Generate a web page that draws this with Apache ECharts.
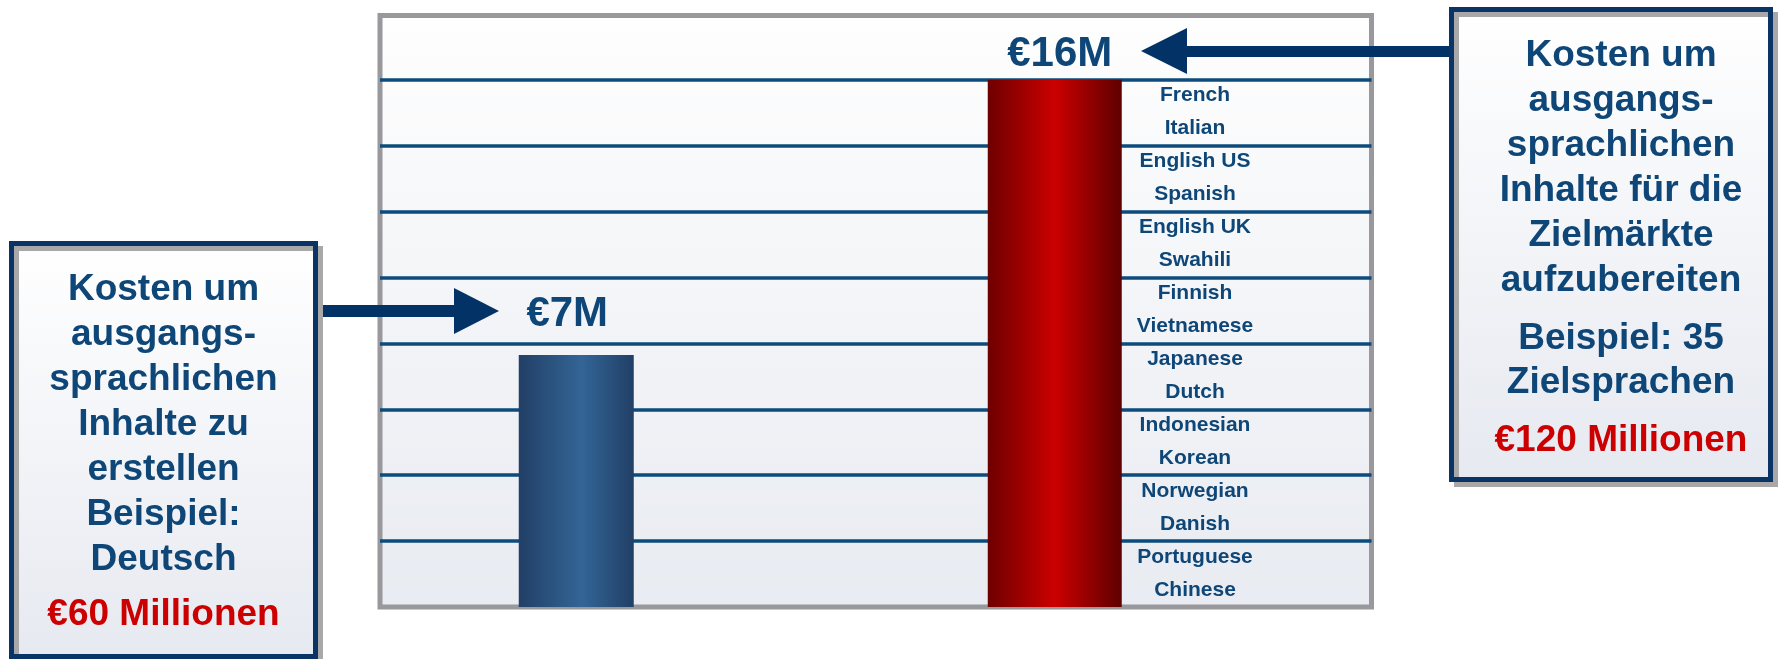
<!DOCTYPE html>
<html>
<head>
<meta charset="utf-8">
<script src="https://cdn.jsdelivr.net/npm/echarts@6/dist/echarts.min.js"></script>
<style>
html, body { margin: 0; padding: 0; background: #fff; }
#chart { width: 1780px; height: 659px; }
</style>
</head>
<body>
<div id="chart"></div>
<script>
// values
var barNames = ['Deutsch', '35 Zielsprachen'];
var costValues = [7.65, 16];
var costLabels = ['€7M', '€16M'];
var languages = ['French', 'Italian', 'English US', 'Spanish', 'English UK', 'Swahili', 'Finnish', 'Vietnamese',
  'Japanese', 'Dutch', 'Indonesian', 'Korean', 'Norwegian', 'Danish', 'Portuguese', 'Chinese'];
var yMax = 17.95;
var yStep = 2;

var leftBoxText = ['Kosten um', 'ausgangs-', 'sprachlichen', 'Inhalte zu', 'erstellen', 'Beispiel:', 'Deutsch'];
var leftBoxTotal = '€60 Millionen';
var rightBoxText = ['Kosten um', 'ausgangs-', 'sprachlichen', 'Inhalte für die', 'Zielmärkte', 'aufzubereiten'];
var rightBoxExample = ['Beispiel: 35', 'Zielsprachen'];
var rightBoxTotal = '€120 Millionen';

var FONT = '"Liberation Sans", Arial, sans-serif';
var NAVY = '#0e4677';
var RED = '#cc0000';

var dom = document.getElementById('chart');
var myChart = echarts.init(dom, null, { renderer: 'canvas' });

function vGrad(top, bottom) {
  return new echarts.graphic.LinearGradient(0, 0, 0, 1, [
    { offset: 0, color: top },
    { offset: 1, color: bottom }
  ]);
}
function hGrad(stops) {
  return new echarts.graphic.LinearGradient(0, 0, 1, 0, stops);
}

function box(x, y, w, h) {
  return {
    type: 'rect', z: 20,
    shape: { x: x, y: y, width: w, height: h },
    style: {
      fill: vGrad('#ffffff', '#e6e9f0'),
      stroke: '#0a3466', lineWidth: 5,
      shadowColor: '#a8a8a8', shadowOffsetX: 5, shadowOffsetY: 5, shadowBlur: 0
    }
  };
}
function boxText(x, y, lines, size, lh, color) {
  return {
    type: 'text', z: 21, x: x, y: y,
    style: {
      text: lines.join('\n'), fill: color,
      font: 'bold ' + size + 'px ' + FONT,
      lineHeight: lh, align: 'center', verticalAlign: 'top'
    }
  };
}

var option = {
  animation: false,
  backgroundColor: '#ffffff',
  grid: [
    { left: 380, top: 15.5, right: 408.5, bottom: 52, show: true,
      backgroundColor: vGrad('#fefefe', '#e8ebf1'), borderColor: '#98989d', borderWidth: 5 },
    { left: 337, top: 15.5, right: 486, bottom: 52 },
    { left: 1195, top: 79, width: 1, height: 528 }
  ],
  xAxis: [
    { gridIndex: 0, type: 'value', show: false },
    { gridIndex: 1, type: 'category', data: barNames, show: false },
    { gridIndex: 1, type: 'category', data: barNames, show: false },
    { gridIndex: 2, type: 'value', show: false }
  ],
  yAxis: [
    { gridIndex: 0, type: 'value', min: 0, max: yMax, interval: yStep,
      axisLine: { show: false }, axisTick: { show: false }, axisLabel: { show: false },
      splitLine: { show: true, showMinLine: false, showMaxLine: false,
        lineStyle: { color: '#0d4b7d', width: 3.5 } } },
    { gridIndex: 1, type: 'value', min: 0, max: yMax, show: false },
    { gridIndex: 2, type: 'category', data: languages, inverse: true,
      axisLine: { show: false }, axisTick: { show: false }, splitLine: { show: false },
      axisLabel: { interval: 0, margin: 0, align: 'center', color: NAVY,
        fontFamily: FONT, fontWeight: 'bold', fontSize: 21 } }
  ],
  series: [
    {
      type: 'bar', xAxisIndex: 1, yAxisIndex: 1, barWidth: 115,
      data: [costValues[0], '-'],
      itemStyle: { color: hGrad([
        { offset: 0, color: '#223f66' },
        { offset: 0.55, color: '#336596' },
        { offset: 1, color: '#213f66' }
      ]) },
      label: { show: true, position: 'top', distance: 19, offset: [-9, 0],
        formatter: function (p) { return costLabels[p.dataIndex]; },
        color: NAVY, fontFamily: FONT, fontWeight: 'bold', fontSize: 42 }
    },
    {
      type: 'bar', xAxisIndex: 2, yAxisIndex: 1, barWidth: 134,
      data: ['-', costValues[1]],
      itemStyle: { color: hGrad([
        { offset: 0, color: '#6e0000' },
        { offset: 0.5, color: '#cc0000' },
        { offset: 1, color: '#5e0000' }
      ]) },
      label: { show: true, position: 'top', distance: 4, offset: [5, 0],
        formatter: function (p) { return costLabels[p.dataIndex]; },
        color: NAVY, fontFamily: FONT, fontWeight: 'bold', fontSize: 42 }
    }
  ],
  graphic: [
    // left arrow
    { type: 'rect', z: 15, shape: { x: 300, y: 305, width: 156, height: 12 }, style: { fill: '#033366' } },
    { type: 'polygon', z: 15, shape: { points: [[454, 288], [499, 311], [454, 334]] }, style: { fill: '#033366' } },
    // right arrow
    { type: 'rect', z: 15, shape: { x: 1185, y: 46, width: 280, height: 11 }, style: { fill: '#033366' } },
    { type: 'polygon', z: 15, shape: { points: [[1187, 28], [1141, 51], [1187, 74]] }, style: { fill: '#033366' } },
    // boxes
    box(11.5, 243.5, 304, 413),
    boxText(163.5, 267.5, leftBoxText, 37, 45, NAVY),
    boxText(163.5, 592, [leftBoxTotal], 37, 45, RED),
    box(1451.5, 9.5, 319, 470),
    boxText(1621, 33.5, rightBoxText, 37, 45, NAVY),
    boxText(1621, 317, rightBoxExample, 37, 44, NAVY),
    boxText(1621, 418, [rightBoxTotal], 37, 45, RED)
  ]
};

myChart.setOption(option);
window.addEventListener('resize', myChart.resize);
</script>
</body>
</html>
